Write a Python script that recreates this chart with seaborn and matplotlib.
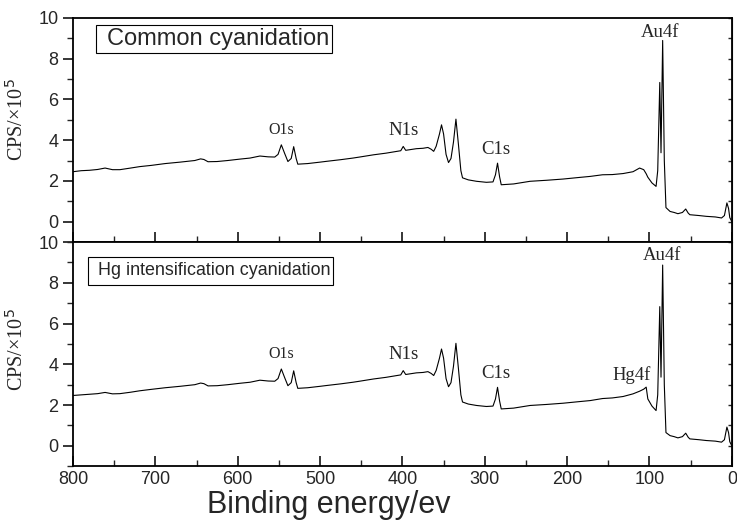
import numpy as np
import pandas as pd
import matplotlib
matplotlib.use("Agg")
import matplotlib.pyplot as plt
import matplotlib.patches as patches
import seaborn as sns
from matplotlib.ticker import MultipleLocator

# binding energy (eV) and counts (x10^5)
energy = [800, 790, 780, 770, 761, 752, 743, 730, 719, 705, 688, 670, 652, 645, 641, 636,
          625, 612, 597, 585, 573, 563, 555, 551, 547, 543, 539, 535, 532, 529, 527, 515,
          500, 492, 475, 460, 452, 435, 420, 411, 402, 399, 396, 383, 375, 369, 365, 362,
          359, 355, 352.5, 350, 347, 344, 341, 338, 335, 332, 329, 327, 320, 310, 298, 290,
          287, 284.5, 282, 280, 265, 245, 225, 205, 185, 172, 157, 145, 132, 120, 112, 107,
          104, 102, 97, 92, 90, 87.5, 86, 84, 82, 80, 75, 70, 65.5, 60, 56, 53,
          51, 40, 31, 20, 12.5, 9, 6, 4, 2.5, 0]

cps_common = [2.45, 2.50, 2.52, 2.56, 2.63, 2.55, 2.55, 2.63, 2.70, 2.76, 2.85, 2.92, 3.00, 3.08, 3.05, 2.94,
              2.95, 3.00, 3.07, 3.12, 3.22, 3.18, 3.17, 3.30, 3.77, 3.35, 2.95, 3.10, 3.68, 3.10, 2.82, 2.85,
              2.92, 2.96, 3.04, 3.12, 3.17, 3.28, 3.36, 3.42, 3.48, 3.69, 3.50, 3.58, 3.60, 3.64, 3.55, 3.45,
              3.70, 4.30, 4.75, 4.30, 3.30, 2.90, 3.10, 3.90, 5.03, 3.80, 2.50, 2.15, 2.05, 1.98, 1.93, 1.95,
              2.30, 2.87, 2.20, 1.81, 1.85, 1.98, 2.03, 2.09, 2.17, 2.22, 2.30, 2.31, 2.36, 2.45, 2.63, 2.55,
              2.35, 2.18, 1.90, 1.73, 2.50, 6.83, 3.38, 8.89, 3.00, 0.69, 0.50, 0.45, 0.39, 0.45, 0.62, 0.42,
              0.34, 0.30, 0.26, 0.23, 0.18, 0.30, 0.92, 0.65, 0.20, 0.00]

cps_hg = [2.47, 2.50, 2.53, 2.56, 2.62, 2.55, 2.56, 2.63, 2.70, 2.77, 2.85, 2.92, 3.00, 3.08, 3.05, 2.94,
          2.95, 3.00, 3.07, 3.12, 3.22, 3.18, 3.17, 3.30, 3.77, 3.35, 2.95, 3.10, 3.68, 3.10, 2.82, 2.85,
          2.92, 2.96, 3.04, 3.12, 3.17, 3.28, 3.36, 3.42, 3.48, 3.69, 3.50, 3.58, 3.60, 3.64, 3.55, 3.45,
          3.70, 4.30, 4.75, 4.30, 3.30, 2.90, 3.10, 3.90, 5.03, 3.80, 2.50, 2.15, 2.05, 1.98, 1.93, 1.95,
          2.30, 2.87, 2.20, 1.81, 1.85, 1.98, 2.03, 2.09, 2.17, 2.22, 2.32, 2.35, 2.42, 2.55, 2.68, 2.78,
          2.88, 2.30, 1.95, 1.73, 2.50, 6.83, 3.37, 8.87, 3.00, 0.65, 0.50, 0.45, 0.39, 0.45, 0.62, 0.42,
          0.34, 0.30, 0.26, 0.23, 0.18, 0.30, 0.92, 0.65, 0.20, 0.00]

panel_titles = ["Common cyanidation", "Hg intensification cyanidation"]
# peak labels: (text, energy, cps, size)
labels_common = [("O1s", 547, 4.5, 11.5), ("N1s", 399, 4.48, 13.5), ("C1s", 287, 3.56, 13.5),
                 ("Au4f", 87.5, 9.3, 13.5)]
labels_hg = [("O1s", 547, 4.5, 11.5), ("N1s", 399, 4.48, 13.5), ("C1s", 287, 3.56, 13.5),
             ("Au4f", 85, 9.36, 13.5), ("Hg4f", 122, 3.48, 13.5)]

df = pd.DataFrame({"energy": energy, "common": cps_common, "hg": cps_hg})

sns.set_style("ticks")
plt.rcParams['font.family'] = ['Liberation Sans', 'DejaVu Sans']

fig, axes = plt.subplots(2, 1, figsize=(7.37, 5.25), dpi=100, sharex=True)
fig.subplots_adjust(left=0.099, right=0.993, top=0.966, bottom=0.112, hspace=0)

# box: (x0, y0, x1, y1, text x, text y, fontsize) in axes fraction
boxes = [(0.035, 0.844, 0.393, 0.969, 0.051, 0.906, 17),
         (0.023, 0.808, 0.3945, 0.934, 0.038, 0.871, 12.9)]
label_y = [0.545, 0.52]

for ax, col, title, labs, bx, ly in zip(axes, ["common", "hg"], panel_titles,
                                        [labels_common, labels_hg], boxes, label_y):
    sns.lineplot(data=df, x="energy", y=col, ax=ax, color="black", lw=0.8, estimator=None)
    ax.set_xlim(800, 0)
    ax.set_ylim(-1, 10)
    ax.yaxis.set_major_locator(MultipleLocator(2))
    ax.yaxis.set_minor_locator(MultipleLocator(1))
    ax.xaxis.set_major_locator(MultipleLocator(100))
    ax.xaxis.set_minor_locator(MultipleLocator(50))
    for s in ax.spines.values():
        s.set_linewidth(1.3)
        s.set_color("black")
    ax.tick_params(axis="y", which="major", direction="out", length=7, width=1.3, labelsize=13, left=True)
    ax.tick_params(axis="y", which="minor", direction="out", length=4, width=1.0, left=True)
    ax.tick_params(axis="x", which="major", direction="in", length=7, width=1.3, labelsize=13)
    ax.tick_params(axis="x", which="minor", direction="in", length=4, width=1.0)
    # right spine: small inward ticks every unit
    rax = ax.secondary_yaxis("right")
    rax.set_yticks(np.arange(0, 11, 1))
    rax.tick_params(direction="in", length=3, width=1.0, labelright=False)
    ax.tick_params(axis="y", which="both", right=False)
    ax.set_ylabel("CPS/×10$^5$", family="Liberation Serif", fontsize=14.5)
    ax.yaxis.set_label_coords(-0.068, ly)
    ax.set_xlabel("")
    for txt, x, y, size in labs:
        ax.text(x, y, txt, family="Liberation Serif", fontsize=size, ha="center", va="center")
    x0, y0, x1, y1, tx, ty, fs = bx
    ax.add_patch(patches.Rectangle((x0, y0), x1 - x0, y1 - y0, transform=ax.transAxes,
                                   fill=False, ec="black", lw=0.8))
    ax.text(tx, ty, title, transform=ax.transAxes, fontsize=fs, ha="left", va="center")

axes[1].set_xlabel("Binding energy/ev", fontsize=22, va="top")
axes[1].xaxis.set_label_coords(0.388, -0.107)
axes[1].set_xticks([800, 700, 600, 500, 400, 300, 200, 100, 0])
axes[1].set_xticklabels(["800", "700", "600", "500", "400", "300", "200", "100", "0"])

fig.savefig("out.png", dpi=100)
